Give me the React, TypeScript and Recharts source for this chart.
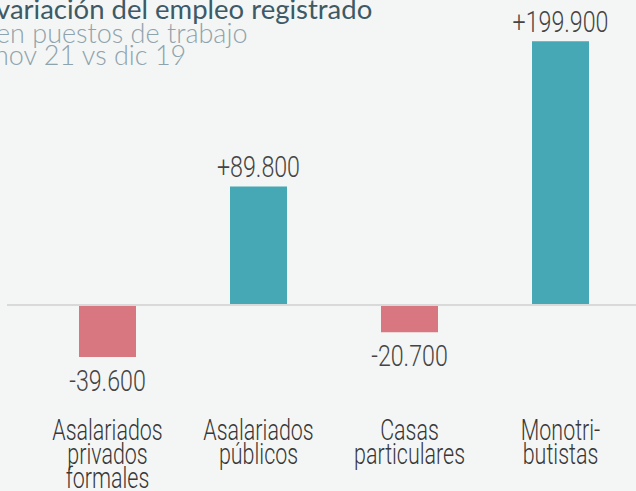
import React from 'react';
import { BarChart, Bar, XAxis, YAxis, ReferenceLine, LabelList, Cell } from 'recharts';

const categories = ['Asalariados privados formales', 'Asalariados públicos', 'Casas particulares', 'Monotributistas'];
const categoryLines = [
  ['Asalariados', 'privados', 'formales'],
  ['Asalariados', 'públicos'],
  ['Casas', 'particulares'],
  ['Monotri-', 'butistas'],
];
const values = [-39600, 89800, -20700, 199900];
const valueLabels = ['-39.600', '+89.800', '-20.700', '+199.900'];

const POS = '#45a8b4';
const NEG = '#d8777f';
const FONT = 'Roboto, "Liberation Sans", sans-serif';

const data = categories.map((name, i) => ({ name, value: values[i], label: valueLabels[i] }));

// condensed look: squeeze a light sans horizontally
const CategoryTick = (props: any) => {
  const { x, y, index } = props;
  const lines = categoryLines[index] || [];
  return (
    <g transform={`translate(${x},${y}) scale(0.74,1)`}>
      <text x={0} y={0} textAnchor="middle" fontFamily={FONT} fontWeight={300} fontSize={29} fill="#383838">
        {lines.map((l, i) => (
          <tspan key={i} x={0} dy={i === 0 ? 48 : 24}>{l}</tspan>
        ))}
      </text>
    </g>
  );
};

const ValueLabel = (props: any) => {
  const { x, y, width, height, index } = props;
  const v = values[index];
  const cx = x + width / 2;
  const top = Math.min(y, y + height);
  const bottom = Math.max(y, y + height);
  const ty = v >= 0 ? top - 9 : bottom + 34;
  return (
    <g transform={`translate(${cx},${ty}) scale(0.8,1)`}>
      <text x={0} y={0} textAnchor="middle" fontFamily={FONT} fontWeight={300} fontSize={29} fill="#444">
        {valueLabels[index]}
      </text>
    </g>
  );
};

const App: React.FC = () => {
  return (
    <div style={{ position: 'absolute', left: 0, top: 0, width: 636, height: 491, background: '#f4f6f5', overflow: 'hidden' }}>
      <div style={{ position: 'absolute', left: -4, top: -6, fontFamily: 'Lato, sans-serif', lineHeight: '22px', zIndex: 2 }}>
        <div style={{ fontSize: 27.5, color: '#3d5a66', lineHeight: '30px', fontWeight: 400 }}>variación del empleo registrado</div>
        <div style={{ fontSize: 27, color: '#8fa3ad', marginTop: -2, fontWeight: 300 }}>en puestos de trabajo</div>
        <div style={{ fontSize: 27, color: '#8fa3ad', marginLeft: -2, fontWeight: 300 }}>nov 21 vs dic 19</div>
      </div>
      <BarChart
        width={636}
        height={491}
        data={data}
        margin={{ top: 28, right: 0, bottom: 0, left: 7 }}
        barSize={57}
      >
        <XAxis
          dataKey="name"
          axisLine={false}
          tickLine={false}
          height={107}
          padding={{ left: 25, right: 0 }}
          interval={0}
          tick={<CategoryTick />}
        />
        <YAxis hide domain={[-60000, 210000]} />
        <ReferenceLine y={0} stroke="#d9d9d9" strokeWidth={2} />
        <Bar dataKey="value" isAnimationActive={false}>
          {data.map((d, i) => (
            <Cell key={i} fill={d.value >= 0 ? POS : NEG} />
          ))}
          <LabelList dataKey="label" content={<ValueLabel />} />
        </Bar>
      </BarChart>
    </div>
  );
};

export default App;
